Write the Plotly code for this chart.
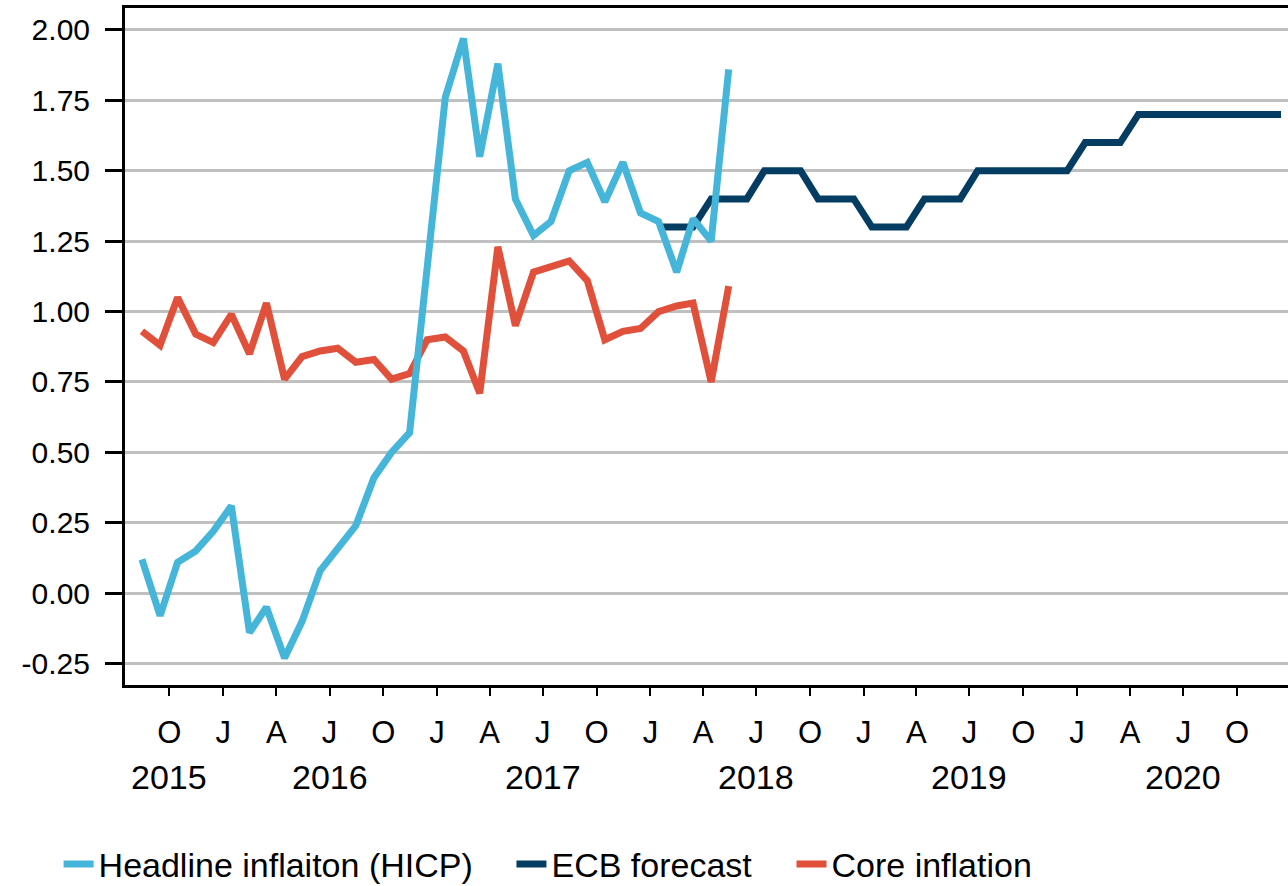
import pandas as pd
import plotly.graph_objects as go

# ---------------- data ----------------
hicp_start = "2015-08"
headline = [0.12, -0.08, 0.11, 0.15, 0.22, 0.31, -0.14, -0.05, -0.23, -0.10,
            0.08, 0.16, 0.24, 0.41, 0.50, 0.57, 1.13, 1.76, 1.97, 1.55,
            1.88, 1.40, 1.27, 1.32, 1.50, 1.53, 1.39, 1.53, 1.35, 1.32,
            1.14, 1.33, 1.25, 1.86]
core = [0.93, 0.88, 1.05, 0.92, 0.89, 0.99, 0.85, 1.03, 0.76, 0.84,
        0.86, 0.87, 0.82, 0.83, 0.76, 0.78, 0.90, 0.91, 0.86, 0.71,
        1.23, 0.95, 1.14, 1.16, 1.18, 1.11, 0.90, 0.93, 0.94, 1.00,
        1.02, 1.03, 0.75, 1.09]
ecb_start = "2018-01"
ecb = [1.3, 1.3, 1.3, 1.4, 1.4, 1.4, 1.5, 1.5, 1.5, 1.4, 1.4, 1.4,
       1.3, 1.3, 1.3, 1.4, 1.4, 1.4, 1.5, 1.5, 1.5, 1.5, 1.5, 1.5,
       1.6, 1.6, 1.6, 1.7, 1.7, 1.7, 1.7, 1.7, 1.7, 1.7, 1.7, 1.7]

quarter_ticks = ["2015-10-01", "2016-01-01", "2016-04-01", "2016-07-01", "2016-10-01",
                 "2017-01-01", "2017-04-01", "2017-07-01", "2017-10-01",
                 "2018-01-01", "2018-04-01", "2018-07-01", "2018-10-01",
                 "2019-01-01", "2019-04-01", "2019-07-01", "2019-10-01",
                 "2020-01-01", "2020-04-01", "2020-07-01", "2020-10-01"]
quarter_text = ["O", "J", "A", "J", "O", "J", "A", "J", "O", "J", "A", "J", "O",
                "J", "A", "J", "O", "J", "A", "J", "O"]
year_ticks = ["2016-01-01", "2017-01-01", "2018-01-01", "2019-01-01", "2020-01-01"]
year_labels = ["2015", "2016", "2017", "2018", "2019", "2020"]
year_label_pos = ["2015-10-01", "2016-07-01", "2017-07-01", "2018-07-01", "2019-07-01", "2020-07-01"]

y_ticks = [-0.25, 0.0, 0.25, 0.5, 0.75, 1.0, 1.25, 1.5, 1.75, 2.0]
y_text = ["-0.25", "0.00", "0.25", "0.50", "0.75", "1.00", "1.25", "1.50", "1.75", "2.00"]

# mid-month dates
def months(start, n):
    return list(pd.date_range(start + "-01", periods=n, freq="MS") + pd.Timedelta(days=14))

x_hicp = months(hicp_start, len(headline))
x_ecb = months(ecb_start, len(ecb))

C_HEAD = "#45B5D9"
C_ECB = "#053D62"
C_CORE = "#E0503B"
FONT = "Liberation Sans, Arial, sans-serif"
LW = 7

fig = go.Figure()
fig.add_trace(go.Scatter(x=x_hicp, y=core, mode="lines", name="Core inflation",
                         line=dict(color=C_CORE, width=LW), legend="legend3"))
fig.add_trace(go.Scatter(x=x_ecb, y=ecb, mode="lines", name="ECB forecast",
                         line=dict(color=C_ECB, width=LW), legend="legend2"))
fig.add_trace(go.Scatter(x=x_hicp, y=headline, mode="lines", name="Headline inflaiton (HICP)",
                         line=dict(color=C_HEAD, width=LW), legend="legend"))

xrange = ["2015-07-17", "2020-12-27"]

for lab, pos in zip(year_labels, year_label_pos):
    fig.add_annotation(x=pos, xref="x", y=-0.136, yref="paper", text=lab,
                       showarrow=False, yanchor="middle", xanchor="center",
                       font=dict(family=FONT, size=34, color="black"))

leg_common = dict(orientation="h", xanchor="left", y=-0.265, yanchor="middle",
                  font=dict(family=FONT, size=34, color="black"),
                  bgcolor="rgba(0,0,0,0)")

fig.update_layout(
    width=1288, height=886,
    margin=dict(l=125, r=0, t=8, b=201, autoexpand=False),
    plot_bgcolor="white", paper_bgcolor="white",
    font=dict(family=FONT, color="black"),
    showlegend=True,
    legend=dict(x=-0.0571, **leg_common),
    legend2=dict(x=0.3323, **leg_common),
    legend3=dict(x=0.5731, **leg_common),
    xaxis=dict(type="date", range=xrange, tickmode="array", tickvals=quarter_ticks,
               ticktext=quarter_text, ticks="outside", ticklen=8, tickwidth=2,
               tickcolor="black", showline=True, linecolor="black", linewidth=3,
               mirror=True, showgrid=False, zeroline=False, automargin=False,
               tickfont=dict(family=FONT, size=31, color="black"),
               ticklabelstandoff=10),
    xaxis2=dict(type="date", range=xrange, overlaying="x", anchor="y", side="bottom",
                tickmode="array", tickvals=year_ticks, ticks="outside", ticklen=19,
                tickwidth=3, tickcolor="black", showticklabels=False, automargin=False,
                showline=False, showgrid=False, zeroline=False),
    yaxis=dict(range=[-0.326, 2.078], tickmode="array", tickvals=y_ticks, ticktext=y_text,
               ticks="outside", ticklen=17, tickwidth=3, automargin=False,
               tickcolor="black", showline=True, linecolor="black", linewidth=3,
               showgrid=True, gridcolor="#C0C0C0", gridwidth=3, zeroline=False,
               tickfont=dict(family=FONT, size=30, color="black"),
               ticklabelstandoff=9),
)

fig.write_html("out.html", config={"displayModeBar": False},
               post_script="document.body.style.margin='0';")
